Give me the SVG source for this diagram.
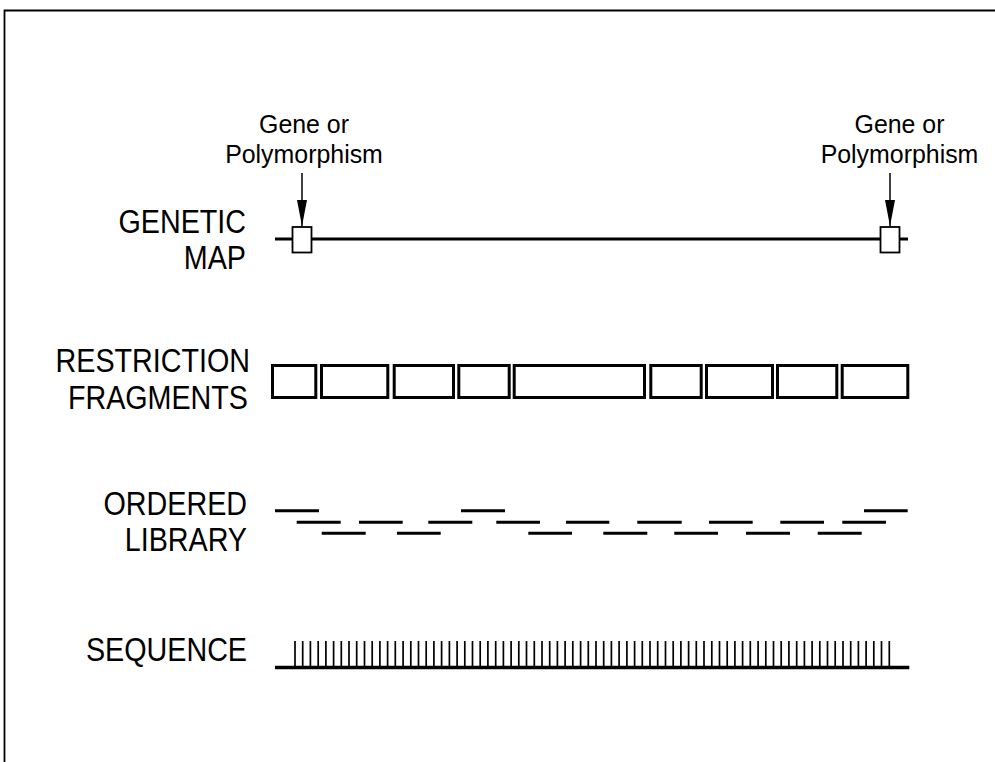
<svg xmlns="http://www.w3.org/2000/svg" width="995" height="762" viewBox="0 0 995 762">
<style>
.lbl{font-family:"Liberation Sans",Arial,sans-serif;font-size:33px;fill:#000}
.gene{font-family:"Liberation Sans",Arial,sans-serif;font-size:26.5px;fill:#000}
.frag{fill:#fff;stroke:#000;stroke-width:3}
.clone{stroke:#000;stroke-width:3;fill:none}
.tick{stroke:#000;stroke-width:1.7}
</style>
<defs>
<marker id="ah" viewBox="0 0 26 10" refX="26" refY="5" markerWidth="26" markerHeight="10" markerUnits="userSpaceOnUse" orient="auto">
<path d="M0,0 L26,5 L0,10 Z" fill="#000"/>
</marker>
</defs>
<rect width="995" height="762" fill="#fff"/>
<path d="M4.5,762 V10.5 H995" fill="none" stroke="#000" stroke-width="1.8"/>

<g id="labels">
<text class="lbl" text-anchor="end" transform="translate(246,232.5) scale(0.87,1)">GENETIC</text>
<text class="lbl" text-anchor="end" transform="translate(246,269) scale(0.87,1)">MAP</text>
<text class="lbl" text-anchor="end" transform="translate(250,372) scale(0.87,1)">RESTRICTION</text>
<text class="lbl" text-anchor="end" transform="translate(248,409) scale(0.87,1)">FRAGMENTS</text>
<text class="lbl" text-anchor="end" transform="translate(247,515) scale(0.87,1)">ORDERED</text>
<text class="lbl" text-anchor="end" transform="translate(247,551) scale(0.87,1)">LIBRARY</text>
<text class="lbl" text-anchor="end" transform="translate(247,661) scale(0.87,1)">SEQUENCE</text>
</g>

<g id="gene-left">
<text class="gene" text-anchor="middle" transform="translate(304,132.5) scale(0.94,1)">Gene or</text>
<text class="gene" text-anchor="middle" transform="translate(304,163) scale(0.94,1)">Polymorphism</text>
</g>
<g id="gene-right">
<text class="gene" text-anchor="middle" transform="translate(899.5,132.5) scale(0.94,1)">Gene or</text>
<text class="gene" text-anchor="middle" transform="translate(899.5,163) scale(0.94,1)">Polymorphism</text>
</g>

<g id="genetic-map">
<line x1="275" y1="239" x2="908" y2="239" stroke="#000" stroke-width="3"/>
<rect x="292.5" y="227" width="19" height="25.5" fill="#fff" stroke="#000" stroke-width="1.8"/>
<rect x="880.5" y="227" width="19" height="25.5" fill="#fff" stroke="#000" stroke-width="1.8"/>
</g>

<g id="connectors">
<line x1="302" y1="173" x2="302" y2="226" stroke="#000" stroke-width="1.5" marker-end="url(#ah)"/>
<line x1="890" y1="173" x2="890" y2="226" stroke="#000" stroke-width="1.5" marker-end="url(#ah)"/>
</g>

<g id="restriction-fragments">
<rect class="frag" x="272.5" y="365.5" width="43.3" height="32"/>
<rect class="frag" x="321.5" y="365.5" width="66.3" height="32"/>
<rect class="frag" x="394.2" y="365.5" width="59.3" height="32"/>
<rect class="frag" x="458.8" y="365.5" width="50.4" height="32"/>
<rect class="frag" x="514.2" y="365.5" width="130.3" height="32"/>
<rect class="frag" x="650.8" y="365.5" width="50.4" height="32"/>
<rect class="frag" x="706.5" y="365.5" width="66" height="32"/>
<rect class="frag" x="777.5" y="365.5" width="59.3" height="32"/>
<rect class="frag" x="842.2" y="365.5" width="65.6" height="32"/>
</g>

<g id="ordered-library">
<path class="clone" d="M275,510.7H319 M461,510.7H505 M864,510.7H907.7"/>
<path class="clone" d="M296.7,522.3H340.7 M359,522.3H402.7 M428.3,522.3H472.3 M496.3,522.3H540 M566,522.3H609.3 M637.3,522.3H681.7 M709,522.3H752.7 M780.3,522.3H824 M842.3,522.3H886"/>
<path class="clone" d="M321.7,533.3H365.7 M397,533.3H440.7 M528.3,533.3H572 M603.3,533.3H647.3 M674.3,533.3H718 M746,533.3H790 M817.7,533.3H861.7"/>
</g>

<g id="sequence">
<line x1="275" y1="667.5" x2="909.3" y2="667.5" stroke="#000" stroke-width="3.5"/>
<path class="tick" d="M295.0,641V667 M302.7,641V667 M310.4,641V667 M318.2,641V667 M325.9,641V667 M333.6,641V667 M341.3,641V667 M349.0,641V667 M356.7,641V667 M364.5,641V667 M372.2,641V667 M379.9,641V667 M387.6,641V667 M395.3,641V667 M403.1,641V667 M410.8,641V667 M418.5,641V667 M426.2,641V667 M433.9,641V667 M441.6,641V667 M449.4,641V667 M457.1,641V667 M464.8,641V667 M472.5,641V667 M480.2,641V667 M487.9,641V667 M495.7,641V667 M503.4,641V667 M511.1,641V667 M518.8,641V667 M526.5,641V667 M534.3,641V667 M542.0,641V667 M549.7,641V667 M557.4,641V667 M565.1,641V667 M572.8,641V667 M580.6,641V667 M588.3,641V667 M596.0,641V667 M603.7,641V667 M611.4,641V667 M619.1,641V667 M626.9,641V667 M634.6,641V667 M642.3,641V667 M650.0,641V667 M657.7,641V667 M665.5,641V667 M673.2,641V667 M680.9,641V667 M688.6,641V667 M696.3,641V667 M704.0,641V667 M711.8,641V667 M719.5,641V667 M727.2,641V667 M734.9,641V667 M742.6,641V667 M750.3,641V667 M758.1,641V667 M765.8,641V667 M773.5,641V667 M781.2,641V667 M788.9,641V667 M796.7,641V667 M804.4,641V667 M812.1,641V667 M819.8,641V667 M827.5,641V667 M835.2,641V667 M843.0,641V667 M850.7,641V667 M858.4,641V667 M866.1,641V667 M873.8,641V667 M881.5,641V667 M889.3,641V667"/>
</g>
</svg>
